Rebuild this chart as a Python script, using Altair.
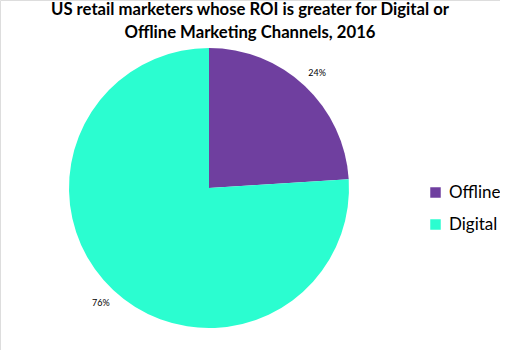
import altair as alt
import pandas as pd

categories = ["Offline", "Digital"]
values = [24, 76]
labels = ["24%", "76%"]
colors = ["#6F3F9F", "#2BFDD0"]

df = pd.DataFrame({"channel": categories, "value": values, "label": labels, "order": [0, 1]})

base = alt.Chart(df).encode(
    theta=alt.Theta("value:Q", stack=True),
    order=alt.Order("order:Q"),
)

color = alt.Color(
    "channel:N",
    scale=alt.Scale(domain=categories, range=colors),
    legend=alt.Legend(
        title=None,
        orient="none",
        legendX=427,
        legendY=184,
        symbolType="square",
        symbolSize=110,
        symbolStrokeWidth=0,
        labelFont="Lato",
        labelFontSize=17,
        labelColor="#000000",
        rowPadding=14,
        labelOffset=5,
    ),
)

pie = base.mark_arc(outerRadius=140, stroke=None).encode(
    color=color,
    x=alt.value(209),
    y=alt.value(188),
)

text = base.mark_text(radius=158, font="Lato", fontSize=9, color="#000000").encode(
    text="label:N",
    x=alt.value(209),
    y=alt.value(188),
)

chart = (
    (pie + text)
    .properties(
        width=500,
        height=350,
        padding=0,
        autosize=alt.AutoSizeParams(type="none"),
        title=alt.TitleParams(
            ["US retail marketers whose ROI is greater for Digital or",
             "Offline Marketing Channels, 2016"],
            font="Lato",
            fontSize=16.7,
            fontWeight="bold",
            color="#000000",
            anchor="start",
            align="center",
            dx=250,
            offset=-42,
            lineHeight=23,
        ),
    )
    .configure_view(stroke=None)
    .configure(background="white")
)

chart.save("out.html", embed_options={"renderer": "svg", "actions": False})
